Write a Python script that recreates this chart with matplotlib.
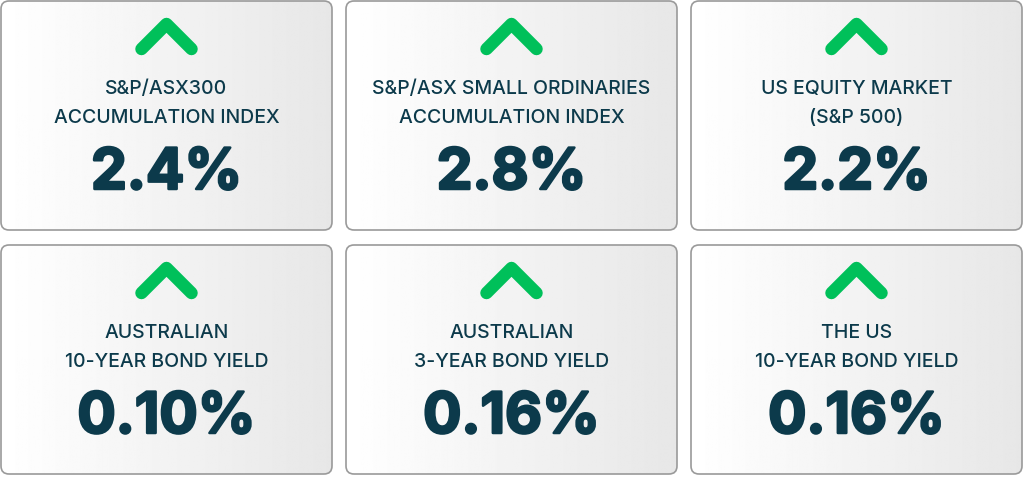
import matplotlib.pyplot as plt
import matplotlib.patheffects as pe
import numpy as np
from matplotlib.patches import FancyBboxPatch

titles = [
    "S&P/ASX300\nACCUMULATION INDEX",
    "S&P/ASX SMALL ORDINARIES\nACCUMULATION INDEX",
    "US EQUITY MARKET\n(S&P 500)",
    "AUSTRALIAN\n10-YEAR BOND YIELD",
    "AUSTRALIAN\n3-YEAR BOND YIELD",
    "THE US\n10-YEAR BOND YIELD",
]
values = ["2.4%", "2.8%", "2.2%", "0.10%", "0.16%", "0.16%"]
direction = ["up", "up", "up", "up", "up", "up"]

text_col = "#0c3a4b"
green = "#00c05a"

fig = plt.figure(figsize=(10.24, 4.91), dpi=100)
ax = fig.add_axes([0, 0, 1, 1])
ax.set_xlim(0, 1024)
ax.set_ylim(491, 0)
ax.axis("off")

card_w, card_h = 331, 229
xs = [1, 346, 691]
ys = [1, 245]

grad = np.linspace(1.0, 0.905, 256).reshape(1, -1)

for i, (t, v) in enumerate(zip(titles, values)):
    x0 = xs[i % 3]
    y0 = ys[i // 3]
    box = FancyBboxPatch((x0 + 8, y0 + 8), card_w - 16, card_h - 16,
                         boxstyle="round,pad=8", fc="none", ec="#9a9a9a", lw=1.2, zorder=3)
    ax.add_patch(box)
    im = ax.imshow(grad, cmap="gray", vmin=0, vmax=1, aspect="auto",
                   extent=(x0, x0 + card_w, y0 + card_h, y0), zorder=1)
    im.set_clip_path(box)
    cx = x0 + card_w / 2
    if direction[i] == "up":
        ax.plot([cx - 25, cx, cx + 25], [y0 + 48, y0 + 23, y0 + 48], color=green,
                lw=9, solid_capstyle="round", solid_joinstyle="round", zorder=4)
    ax.text(cx, y0 + 102.5, t, ha="center", va="center", fontsize=14, color=text_col,
            family="Inter", fontweight="medium", linespacing=1.85, zorder=5)
    ax.text(cx, y0 + 173, v, ha="center", va="center", fontsize=41, color=text_col,
            family="Inter", fontweight="bold", zorder=5,
            path_effects=[pe.withStroke(linewidth=1.8, foreground=text_col)])

ax.set_xlim(0, 1024)
ax.set_ylim(491, 0)
plt.savefig("out.png", dpi=100)
